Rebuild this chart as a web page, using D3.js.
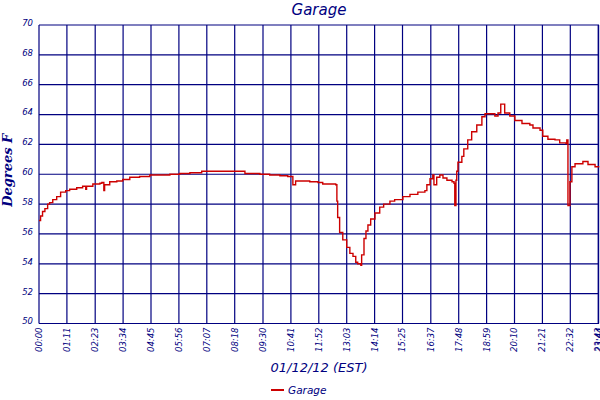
<!DOCTYPE html>
<html lang="en">
<head>
    <meta charset="UTF-8">
    <title>Garage</title>
    <script src="https://cdnjs.cloudflare.com/ajax/libs/d3/7.8.5/d3.min.js"></script>
    <style>
        body {
            margin: 0;
            background-color: white;
        }
        text {
            fill: #000080;
            font-family: "DejaVu Sans", sans-serif;
            font-style: italic;
        }
    </style>
</head>
<body>
    <div id="chart"></div>

    <script>
        // readings, 01/12/12, time of day (HH:MM) and degrees F
        const times = [
            "00:00", "00:04", "00:09", "00:15", "00:22", "00:27", "00:35", "00:45", "00:55", "01:08",
            "01:18", "01:36", "01:51", "01:59", "02:01", "02:17", "02:35", "02:40", "02:45", "02:47",
            "03:00", "03:18", "03:33", "03:51", "04:16", "04:42", "05:07", "05:33", "05:58", "06:24",
            "06:49", "06:54", "07:27", "08:05", "08:44", "09:22", "09:47", "10:13", "10:33", "10:46",
            "10:53", "11:29", "11:50", "12:02", "12:35", "12:38", "12:40", "12:45", "12:53", "13:03",
            "13:11", "13:19", "13:26", "13:31", "13:39", "13:41", "13:47", "13:52", "13:57", "14:04",
            "14:15", "14:27", "14:37", "14:53", "15:05", "15:26", "15:44", "16:04", "16:22", "16:27",
            "16:35", "16:42", "16:45", "16:52", "17:00", "17:08", "17:18", "17:31", "17:36", "17:38",
            "17:41", "17:43", "17:46", "17:56", "18:01", "18:11", "18:21", "18:34", "18:47", "18:55",
            "19:15", "19:20", "19:28", "19:35", "19:45", "19:58", "20:11", "20:29", "20:49", "20:57",
            "21:15", "21:22", "21:35", "21:53", "22:05", "22:21", "22:23", "22:26", "22:31", "22:36",
            "22:44", "23:04", "23:17", "23:35", "23:44"
        ];
        const garage = [
            56.9, 57.2, 57.5, 57.7, 58.0, 58.1, 58.3, 58.5, 58.8, 58.9,
            59.0, 59.1, 59.2, 59.0, 59.2, 59.35, 59.4, 59.45, 58.9, 59.3,
            59.5, 59.55, 59.65, 59.8, 59.85, 59.95, 59.95, 60.0, 60.05, 60.1,
            60.1, 60.2, 60.2, 60.2, 60.05, 60.0, 59.95, 59.9, 59.85, 59.3,
            59.55, 59.5, 59.45, 59.35, 59.3, 58.2, 57.1, 56.1, 55.6, 55.1,
            54.7, 54.5, 54.1, 54.0, 53.9, 54.6, 55.7, 56.2, 56.6, 57.0,
            57.4, 57.8, 58.0, 58.2, 58.3, 58.5, 58.65, 58.8, 58.9, 59.3,
            59.7, 59.95, 59.3, 59.8, 59.95, 59.75, 59.6, 59.5, 59.4, 57.9,
            59.6, 60.2, 60.8, 61.2, 61.7, 62.3, 62.85, 63.3, 63.85, 64.05,
            64.05, 63.9, 64.1, 64.7, 64.1, 63.9, 63.6, 63.4, 63.3, 63.1,
            62.95, 62.55, 62.35, 62.3, 62.1, 62.05, 62.3, 57.9, 59.5, 60.5,
            60.7, 60.85, 60.65, 60.5, 60.45
        ];
        const xTickLabels = [
            "00:00", "01:11", "02:23", "03:34", "04:45", "05:56", "07:07", "08:18", "09:30", "10:41",
            "11:52", "13:03", "14:14", "15:25", "16:37", "17:48", "18:59", "20:10", "21:21", "22:32",
            "23:43", "23:44"
        ];
        const yTicks = [50, 52, 54, 56, 58, 60, 62, 64, 66, 68, 70];

        const width = 600;
        const height = 400;
        const margin = { top: 25, right: 1, bottom: 76.5, left: 39 };
        const navy = "#000080";

        const toMin = s => { const p = s.split(":"); return +p[0] * 60 + +p[1]; };
        const data = times.map((t, i) => ({ t: toMin(t), v: garage[i] }));

        const svg = d3.select("#chart")
            .append("svg")
            .attr("width", width)
            .attr("height", height);

        const x = d3.scaleLinear()
            .domain([0, toMin("23:45")])
            .range([margin.left, width - margin.right]);

        const y = d3.scaleLinear()
            .domain([50, 70])
            .range([height - margin.bottom, margin.top]);

        // grid
        const grid = svg.append("g").attr("stroke", navy).attr("stroke-width", 1.2);

        grid.selectAll(".hline")
            .data(yTicks)
            .enter()
            .append("line")
            .attr("x1", x.range()[0])
            .attr("x2", x.range()[1])
            .attr("y1", d => y(d))
            .attr("y2", d => y(d));

        grid.selectAll(".vline")
            .data(xTickLabels)
            .enter()
            .append("line")
            .attr("x1", d => x(toMin(d)))
            .attr("x2", d => x(toMin(d)))
            .attr("y1", y.range()[0])
            .attr("y2", y.range()[1]);

        // y tick labels
        svg.selectAll(".ylab")
            .data(yTicks)
            .enter()
            .append("text")
            .attr("x", 33)
            .attr("y", d => y(d))
            .attr("dy", "0.1em")
            .attr("text-anchor", "end")
            .style("font-size", "8.5px")
            .text(d => d);

        // x tick labels, rotated
        svg.selectAll(".xlab")
            .data(xTickLabels)
            .enter()
            .append("text")
            .attr("transform", d => `translate(${x(toMin(d))},${y(50) + 4}) rotate(-90)`)
            .attr("dy", "0.35em")
            .attr("text-anchor", "end")
            .style("font-size", "8.5px")
            .text(d => d);

        // series
        const line = d3.line()
            .x(d => x(d.t))
            .y(d => y(d.v))
            .curve(d3.curveStepAfter);

        svg.append("path")
            .datum(data)
            .attr("d", line)
            .attr("fill", "none")
            .attr("stroke", "#cc0000")
            .attr("stroke-width", 1.4);

        // titles
        svg.append("text")
            .attr("x", (x.range()[0] + x.range()[1]) / 2)
            .attr("y", 15)
            .attr("text-anchor", "middle")
            .style("font-size", "15px")
            .text("Garage");

        svg.append("text")
            .attr("x", (x.range()[0] + x.range()[1]) / 2)
            .attr("y", 372)
            .attr("text-anchor", "middle")
            .style("font-size", "13px")
            .text("01/12/12 (EST)");

        svg.append("text")
            .attr("transform", `translate(12,${(y(50) + y(70)) / 2 - 4}) rotate(-90)`)
            .attr("text-anchor", "middle")
            .style("font-family", "'DejaVu Serif', serif")
            .style("font-weight", "bold")
            .style("font-size", "13px")
            .text("Degrees F");

        // legend
        const legend = svg.append("g").attr("transform", "translate(271,390)");
        legend.append("line")
            .attr("x1", 0)
            .attr("x2", 13)
            .attr("stroke", "#cc0000")
            .attr("stroke-width", 2);
        legend.append("text")
            .attr("x", 17)
            .attr("dy", "0.35em")
            .style("font-size", "10.5px")
            .text("Garage");
    </script>
</body>
</html>
